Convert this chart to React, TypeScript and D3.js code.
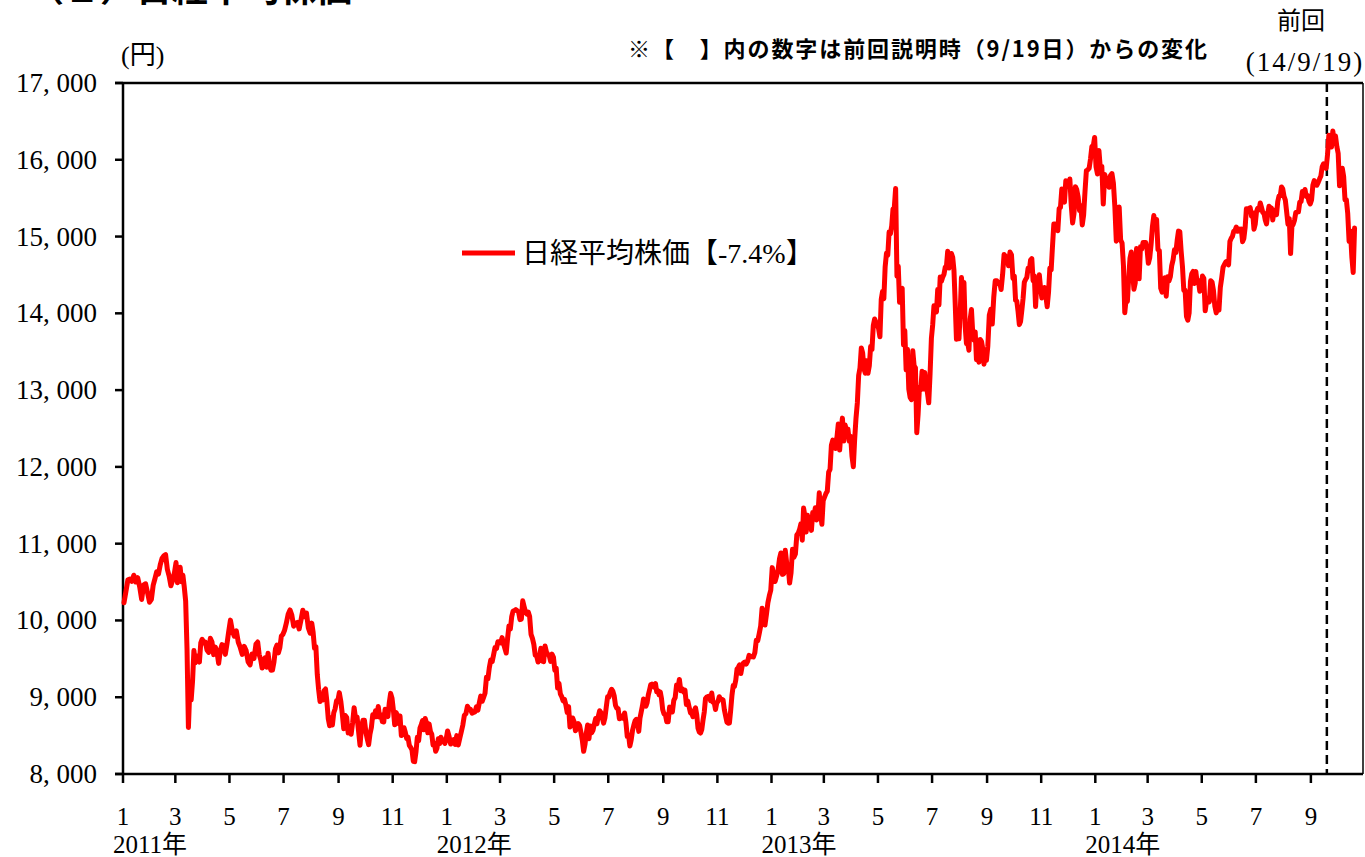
import React from 'react';
import * as d3 from 'd3';

// Nikkei 225 closes, listed per month (Jan..Dec), in order within each month
const nikkei2011: number[][] = [
  [10230, 10380, 10530, 10540, 10510, 10589, 10500, 10557, 10437, 10274, 10464, 10478, 10360, 10237],
  [10274, 10457, 10543, 10635, 10605, 10725, 10808, 10842, 10857, 10665, 10579, 10452, 10526, 10624],
  [10754, 10492, 10586, 10693, 10505, 10589, 10434, 10254, 9620, 8605, 9093, 8962, 9206, 9608, 9449, 9536, 9478, 9459, 9708, 9755],
  [9708, 9718, 9615, 9584, 9768, 9719, 9555, 9653, 9591, 9441, 9606, 9685, 9671, 9558, 9691, 9849],
  [10004, 9859, 9794, 9864, 9716, 9648, 9558, 9662, 9607, 9460, 9422, 9562, 9504, 9693],
  [9719, 9555, 9492, 9380, 9449, 9514, 9391, 9574, 9411, 9351, 9354, 9459, 9629, 9678, 9578, 9648, 9797, 9816],
  [9868, 9965, 10082, 10137, 10069, 9925, 9963, 9974, 9889, 10005, 10132, 10050, 10097, 9901, 9833],
  [9965, 9844, 9637, 9659, 9299, 9097, 8944, 9038, 8963, 9086, 9107, 8943, 8719, 8628, 8733, 8639, 8797, 8851, 8953, 8955],
  [9060, 8950, 8784, 8590, 8763, 8737, 8535, 8616, 8518, 8668, 8864, 8721, 8741, 8560, 8374, 8609, 8701, 8700],
  [8545, 8456, 8382, 8522, 8605, 8773, 8738, 8823, 8747, 8879, 8741, 8772, 8682, 8678, 8843, 8762, 8748, 8926, 9050, 8988],
  [8835, 8640, 8801, 8767, 8655, 8755, 8500, 8514, 8603, 8541, 8463, 8479, 8374, 8348, 8314, 8165, 8160, 8287, 8477, 8434],
  [8597, 8643, 8695, 8575, 8722, 8664, 8536, 8653, 8553, 8519, 8377, 8401, 8296, 8336, 8459, 8395, 8479, 8440, 8423, 8398, 8455],
];
const nikkei2012: number[][] = [
  [8560, 8488, 8390, 8422, 8447, 8385, 8500, 8378, 8466, 8550, 8639, 8766, 8785, 8883, 8849, 8841, 8793, 8802],
  [8809, 8876, 8831, 8929, 9015, 8947, 8999, 9052, 9260, 9238, 9384, 9485, 9463, 9554, 9647, 9633, 9722, 9723],
  [9707, 9777, 9698, 9637, 9576, 9768, 9929, 9889, 10050, 10123, 10129, 10141, 10127, 10110, 10011, 10018, 10255, 10182, 10114, 10083],
  [10109, 10050, 9819, 9767, 9688, 9546, 9538, 9458, 9524, 9637, 9470, 9464, 9667, 9588, 9561, 9542, 9467, 9561, 9520],
  [9350, 9380, 9119, 9181, 9045, 9009, 8953, 8973, 8900, 8801, 8876, 8611, 8634, 8729, 8680, 8563, 8593, 8657, 8633, 8542],
  [8440, 8295, 8383, 8533, 8639, 8459, 8624, 8536, 8568, 8647, 8721, 8655, 8752, 8824, 8798, 8734, 8663, 8730, 8872, 9006],
  [9003, 9066, 9104, 9079, 9020, 8896, 8857, 8851, 8720, 8724, 8755, 8726, 8795, 8669, 8488, 8510, 8366, 8443, 8566, 8635, 8695],
  [8712, 8680, 8555, 8726, 8804, 8881, 8978, 8891, 8885, 8929, 9030, 9093, 9162, 9171, 9156, 9131, 9178, 9070, 9085, 9033, 9069, 8983, 8839],
  [8783, 8775, 8679, 8680, 8871, 8869, 8807, 8959, 8995, 9159, 9123, 9232, 9086, 9110, 9069, 9091, 8906, 8949, 8870],
  [8797, 8786, 8746, 8824, 8863, 8769, 8596, 8546, 8534, 8577, 8701, 8807, 8982, 9003, 9010, 9014, 8955, 9055, 8933, 8929, 8841, 8928],
  [8946, 9007, 8975, 8972, 8964, 8837, 8757, 8676, 8661, 8664, 8830, 9024, 9153, 9142, 9222, 9366, 9388, 9423, 9308, 9400, 9446],
  [9458, 9432, 9468, 9545, 9527, 9533, 9525, 9581, 9742, 9737, 9828, 9923, 10160, 10039, 9940, 10080, 10230, 10322, 10395],
];
const nikkei2013: number[][] = [
  [10688, 10599, 10508, 10578, 10652, 10801, 10879, 10600, 10609, 10913, 10747, 10709, 10487, 10620, 10926, 10824, 10866, 11113, 11138],
  [11191, 11260, 11046, 11463, 11357, 11153, 11369, 11251, 11307, 11173, 11407, 11372, 11468, 11309, 11385, 11662, 11398, 11253, 11559],
  [11606, 11652, 11683, 11932, 11968, 12283, 12349, 12314, 12239, 12381, 12560, 12220, 12468, 12635, 12338, 12546, 12471, 12493, 12336, 12397],
  [12135, 12003, 12362, 12634, 12833, 13192, 13288, 13549, 13485, 13275, 13221, 13382, 13220, 13316, 13568, 13529, 13843, 13926, 13884, 13860],
  [13799, 13694, 14180, 14285, 14191, 14608, 14782, 14758, 15059, 15037, 15138, 15360, 15382, 15627, 14484, 14612, 14143, 14311, 14326, 13589, 13775],
  [13262, 13533, 13014, 12904, 12877, 13514, 13317, 13289, 12445, 12686, 13033, 13007, 13245, 13014, 13230, 13062, 12969, 12834, 13213, 13677],
  [13852, 14098, 14055, 14018, 14309, 14109, 14473, 14416, 14472, 14506, 14599, 14615, 14808, 14589, 14659, 14778, 14731, 14562, 14129, 13661, 13869, 13668],
  [14006, 14467, 14258, 14401, 13824, 13605, 13615, 13519, 13925, 14050, 13752, 13650, 13758, 13396, 13424, 13365, 13660, 13636, 13542, 13338, 13459, 13388],
  [13572, 13978, 14053, 13860, 14205, 14423, 14425, 14387, 14404, 14311, 14505, 14766, 14742, 14732, 14620, 14799, 14760, 14455],
  [14484, 14170, 14157, 14024, 13853, 13894, 14037, 14194, 14404, 14441, 14467, 14586, 14561, 14693, 14713, 14426, 14486, 14088, 14396, 14325, 14502, 14327],
  [14201, 14226, 14337, 14228, 14086, 14270, 14588, 14567, 14876, 15165, 15164, 15126, 15076, 15365, 15381, 15619, 15515, 15449, 15727, 15661],
  [15655, 15749, 15407, 15177, 15299, 15650, 15611, 15515, 15341, 15403, 15152, 15279, 15586, 15859, 15870, 15889, 16009, 16174, 16178, 16291],
];
const nikkei2014: number[][] = [
  [15909, 15814, 16121, 15881, 15913, 15423, 15809, 15748, 15735, 15641, 15796, 15821, 15696, 15391, 14940, 15006, 15384, 14956, 14915],
  [14619, 14009, 14181, 14155, 14463, 14718, 14800, 14535, 14313, 14394, 14843, 14766, 14450, 14866, 14838, 14923, 14924, 14923, 14841],
  [14652, 14721, 14897, 15134, 15274, 15120, 15224, 14830, 14815, 14327, 14277, 14411, 14462, 14224, 14475, 14423, 14477, 14622, 14696, 14827],
  [14791, 14946, 15071, 15063, 14809, 14607, 14300, 14300, 13960, 13910, 14003, 14417, 14516, 14545, 14388, 14546, 14404, 14429, 14288, 14304],
  [14485, 14457, 14033, 14163, 14199, 14149, 14425, 14405, 14298, 14096, 14006, 14075, 14042, 14337, 14462, 14602, 14636, 14670, 14681, 14632],
  [14935, 14976, 15002, 15069, 15077, 15124, 15069, 15099, 15069, 15098, 14933, 14975, 15115, 15361, 15349, 15369, 15376, 15266, 15308, 15095, 15162],
  [15326, 15369, 15348, 15437, 15379, 15314, 15302, 15216, 15164, 15296, 15395, 15379, 15370, 15215, 15343, 15328, 15284, 15457, 15529, 15530, 15646, 15621],
  [15523, 15474, 15320, 15159, 15232, 14778, 15130, 15161, 15213, 15314, 15318, 15322, 15449, 15454, 15586, 15539, 15613, 15521, 15534, 15459, 15424],
  [15476, 15668, 15728, 15676, 15668, 15705, 15749, 15788, 15909, 15948, 15911, 15888, 16067, 16321, 16205, 16167, 16374, 16229, 16310, 16173],
  [16082, 15661, 15708, 15890, 15783, 15478, 15479, 15300, 14936, 15073, 14738, 14532, 15111],
];
const seriesYears: [number, number[][]][] = [
  [2011, nikkei2011],
  [2012, nikkei2012],
  [2013, nikkei2013],
  [2014, nikkei2014],
];
const lastDataDay = 20; // data runs to 2014-10-20
const prevDate = new Date(2014, 8, 19);

const yTicks = [8000, 9000, 10000, 11000, 12000, 13000, 14000, 15000, 16000, 17000];
const yearLabels = ['2011年', '2012年', '2013年', '2014年'];
const titleText = '（１）日経平均株価';
const unitText = '(円)';
const noteText = '※【　】内の数字は前回説明時（9/19日）からの変化';
const prevLabel1 = '前回';
const prevLabel2 = '(14/9/19)';
const legendText = '日経平均株価【-7.4%】';

const W = 1365;
const H = 857;
const serif = "'Liberation Serif', 'Noto Sans CJK JP', serif";
const gothic = "'Noto Sans CJK JP', sans-serif";

type Pt = { date: Date; value: number };

function buildPoints(): Pt[] {
  const pts: Pt[] = [];
  const lastYear = seriesYears[seriesYears.length - 1];
  seriesYears.forEach(([yr, months]) => {
    months.forEach((vals, m) => {
      const start = new Date(yr, m, 1).getTime();
      const isLast = yr === lastYear[0] && m === lastYear[1].length - 1;
      const span = isLast ? lastDataDay : new Date(yr, m + 1, 0).getDate();
      vals.forEach((v, i) => {
        pts.push({ date: new Date(start + ((i + 0.5) / vals.length) * span * 864e5), value: v });
      });
    });
  });
  return pts;
}

export default function App() {
  const x = d3.scaleTime().domain([new Date(2011, 0, 1), new Date(2014, 10, 1)]).range([123, 1365]);
  const y = d3.scaleLinear().domain([8000, 17000]).range([774, 83]);
  const pts = buildPoints();
  const line = d3
    .line<Pt>()
    .x((d) => x(d.date))
    .y((d) => y(d.value));

  const monthTicks = d3.timeMonth.every(2)!.range(new Date(2011, 0, 1), new Date(2014, 9, 1));
  const fmt = (v: number) => d3.format(',')(v).replace(',', ', ');
  const left = x.range()[0];
  const right = 1363;
  const bottom = y(8000);
  const top = y(17000);

  return (
    <svg
      width={W}
      height={H}
      style={{ position: 'absolute', left: 0, top: 0, background: '#fff' }}
    >
      <rect x={0} y={0} width={W} height={H} fill="#fff" />
      <text x={28} y={1.5} fontFamily={gothic} fontWeight="bold" fontSize={36} fill="#000">
        {titleText}
      </text>
      <text x={121} y={64} fontFamily={serif} fontSize={26} fill="#000">
        {unitText}
      </text>
      <text
        x={628}
        y={57}
        fontFamily={gothic}
        fontWeight="bold"
        fontSize={22}
        fill="#000"
        textLength={579}
        lengthAdjust="spacing"
      >
        {noteText}
      </text>
      <text x={1301} y={29} textAnchor="middle" fontFamily={serif} fontSize={24} fill="#000">
        {prevLabel1}
      </text>
      <text
        x={1305}
        y={71}
        textAnchor="middle"
        fontFamily={serif}
        fontSize={27}
        letterSpacing={2}
        fill="#000"
      >
        {prevLabel2}
      </text>

      {/* frame */}
      <line x1={115} x2={right} y1={top} y2={top} stroke="#000" strokeWidth={2.5} />
      <line x1={right} x2={right} y1={top} y2={bottom} stroke="#000" strokeWidth={1.5} />
      <line x1={left} x2={left} y1={top} y2={bottom} stroke="#000" strokeWidth={2.5} />
      <line x1={115} x2={right} y1={bottom} y2={bottom} stroke="#000" strokeWidth={2.5} />

      {yTicks.map((t) => (
        <g key={t}>
          <line x1={115} x2={left} y1={y(t)} y2={y(t)} stroke="#000" strokeWidth={2.5} />
          <text
            x={97}
            y={y(t) + 9}
            textAnchor="end"
            fontFamily={serif}
            fontSize={27}
            fill="#000"
          >
            {fmt(t)}
          </text>
        </g>
      ))}

      {monthTicks.map((d) => (
        <g key={d.getTime()}>
          <line x1={x(d)} x2={x(d)} y1={bottom} y2={bottom + 9} stroke="#000" strokeWidth={2.5} />
          <text
            x={x(d)}
            y={825}
            textAnchor="middle"
            fontFamily={serif}
            fontSize={25}
            fill="#000"
          >
            {d.getMonth() + 1}
          </text>
        </g>
      ))}
      {yearLabels.map((lab, i) => (
        <text
          key={lab}
          x={x(new Date(2011 + i, 0, 1)) - 10}
          y={853}
          fontFamily={serif}
          fontSize={25}
          fill="#000"
        >
          {lab}
        </text>
      ))}

      <line
        x1={x(prevDate)}
        x2={x(prevDate)}
        y1={top}
        y2={bottom}
        stroke="#000"
        strokeWidth={2.5}
        strokeDasharray="9,5"
      />

      <path
        d={line(pts) || ''}
        fill="none"
        stroke="#ff0000"
        strokeWidth={5}
        strokeLinejoin="round"
        strokeLinecap="round"
      />

      {/* legend */}
      <line x1={462} x2={515} y1={253} y2={253} stroke="#ff0000" strokeWidth={5} />
      <text x={522} y={263} fontFamily={serif} fontSize={28} fill="#000">
        {legendText}
      </text>
    </svg>
  );
}
